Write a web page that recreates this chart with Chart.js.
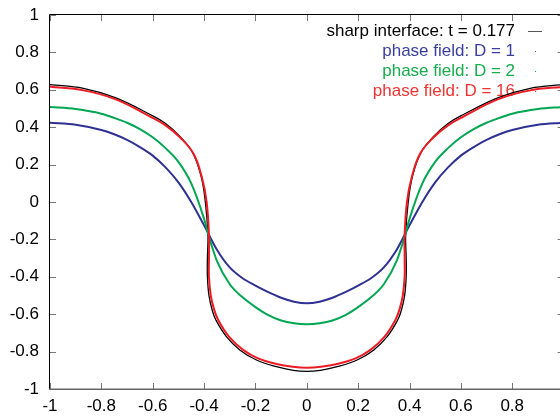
<!DOCTYPE html>
<html>
<head>
<meta charset="utf-8">
<script src="https://cdn.jsdelivr.net/npm/chart.js@4.4.1/dist/chart.umd.min.js"></script>
<style>
  html, body { margin: 0; padding: 0; background: #fff; }
  #wrap { width: 560px; height: 416px; position: relative; }
</style>
</head>
<body>
<div id="wrap"><canvas id="chart"></canvas></div>
<script>
// axis ticks
const xTicks = [-1, -0.8, -0.6, -0.4, -0.2, 0, 0.2, 0.4, 0.6, 0.8];
const yTicks = [-1, -0.8, -0.6, -0.4, -0.2, 0, 0.2, 0.4, 0.6, 0.8, 1];

// sharp interface, t = 0.177 (left to right)
const sharpX = [-1, -0.87, -0.746, -0.61, -0.55, -0.495, -0.445, -0.412, -0.395, -0.385, -0.387, -0.387, -0.381, -0.368, -0.354, -0.313, -0.261, -0.196, -0.118, -0.053, 0,
                0.053, 0.118, 0.196, 0.261, 0.313, 0.354, 0.368, 0.381, 0.387, 0.387, 0.385, 0.395, 0.412, 0.445, 0.495, 0.55, 0.61, 0.746, 0.87, 1];
const sharpY = [0.628, 0.608, 0.558, 0.468, 0.42, 0.352, 0.265, 0.14, 0, -0.18, -0.3, -0.4, -0.5, -0.58, -0.631, -0.72, -0.791, -0.845, -0.881, -0.9, -0.906,
                -0.9, -0.881, -0.845, -0.791, -0.72, -0.631, -0.58, -0.5, -0.4, -0.3, -0.18, 0, 0.14, 0.265, 0.352, 0.42, 0.468, 0.558, 0.608, 0.628];

// phase field, D = 1
const d1X = [-1, -0.9, -0.8, -0.75, -0.7, -0.65, -0.6, -0.55, -0.5, -0.45, -0.4, -0.35, -0.3, -0.25, -0.2, -0.15, -0.1, -0.05, 0,
             0.05, 0.1, 0.15, 0.2, 0.25, 0.3, 0.35, 0.4, 0.45, 0.5, 0.55, 0.6, 0.65, 0.7, 0.75, 0.8, 0.9, 1];
const d1Y = [0.424, 0.413, 0.385, 0.362, 0.332, 0.294, 0.248, 0.185, 0.105, 0, -0.125, -0.255, -0.35, -0.408, -0.447, -0.482, -0.512, -0.533, -0.542,
             -0.533, -0.512, -0.482, -0.447, -0.408, -0.35, -0.255, -0.125, 0, 0.105, 0.185, 0.248, 0.294, 0.332, 0.362, 0.385, 0.413, 0.424];

// phase field, D = 2
const d2X = [-1, -0.9, -0.8, -0.75, -0.7, -0.65, -0.6, -0.55, -0.5, -0.45, -0.4, -0.38, -0.35, -0.3, -0.25, -0.2, -0.15, -0.1, -0.05, 0,
             0.05, 0.1, 0.15, 0.2, 0.25, 0.3, 0.35, 0.38, 0.4, 0.45, 0.5, 0.55, 0.6, 0.65, 0.7, 0.75, 0.8, 0.9, 1];
const d2Y = [0.508, 0.497, 0.472, 0.45, 0.424, 0.39, 0.346, 0.288, 0.215, 0.1, -0.09, -0.19, -0.315, -0.44, -0.51, -0.562, -0.605, -0.634, -0.649, -0.654,
             -0.649, -0.634, -0.605, -0.562, -0.51, -0.44, -0.315, -0.19, -0.09, 0.1, 0.215, 0.288, 0.346, 0.39, 0.424, 0.45, 0.472, 0.497, 0.508];

// phase field, D = 16 (left to right)
const d16X = [-1, -0.87, -0.746, -0.61, -0.55, -0.493, -0.441, -0.409, -0.39, -0.381, -0.381, -0.381, -0.374, -0.362, -0.345, -0.303, -0.248, -0.19, -0.118, -0.055, 0,
              0.055, 0.118, 0.19, 0.248, 0.303, 0.345, 0.362, 0.374, 0.381, 0.381, 0.381, 0.39, 0.409, 0.441, 0.493, 0.55, 0.61, 0.746, 0.87, 1];
const d16Y = [0.616, 0.597, 0.55, 0.457, 0.41, 0.345, 0.258, 0.135, 0, -0.18, -0.3, -0.4, -0.5, -0.57, -0.631, -0.72, -0.791, -0.836, -0.866, -0.881, -0.886,
              -0.881, -0.866, -0.836, -0.791, -0.72, -0.631, -0.57, -0.5, -0.4, -0.3, -0.18, 0, 0.135, 0.258, 0.345, 0.41, 0.457, 0.55, 0.597, 0.616];

const legendItems = [
    { text: 'sharp interface: t = 0.177', color: '#000000', sample: 'line' },
    { text: 'phase field: D = 1', color: '#3a3f9e', sample: 'dot' },
    { text: 'phase field: D = 2', color: '#16ad4c', sample: 'dot' },
    { text: 'phase field: D = 16', color: '#ee3333', sample: 'dot' }
];

const FONT = '"Liberation Sans", Arial, Helvetica, sans-serif';

function toPoints(xs, ys) {
    return xs.map((x, i) => ({ x: x, y: ys[i] }));
}

function curve(label, xs, ys, color, width, order, monotone) {
    return {
        label: label,
        data: toPoints(xs, ys),
        borderColor: color,
        borderWidth: width,
        pointRadius: 0,
        tension: 0.4,
        cubicInterpolationMode: monotone ? 'monotone' : 'default',
        fill: false,
        order: order
    };
}

// gnuplot-style frame with inward ticks, and the legend
const framePlugin = {
    id: 'frame',
    beforeDatasetsDraw(chart) {
        const ctx = chart.ctx;
        ctx.save();
        ctx.font = '17px ' + FONT;
        ctx.textAlign = 'right';
        ctx.textBaseline = 'middle';
        legendItems.forEach((item, i) => {
            const ty = 31 + i * 20;
            ctx.fillStyle = item.color;
            ctx.fillText(item.text, 515, ty);
            if (item.sample === 'line') {
                ctx.strokeStyle = '#555';
                ctx.lineWidth = 1;
                ctx.beginPath();
                ctx.moveTo(528, ty + 0.5);
                ctx.lineTo(542, ty + 0.5);
                ctx.stroke();
            } else {
                ctx.fillStyle = item.color;
                ctx.fillRect(535, ty, 1, 1);
            }
        });
        ctx.restore();
    },
    afterDatasetsDraw(chart) {
        const { ctx, chartArea: a, scales: { x, y } } = chart;
        const rightEdge = x.getPixelForValue(1);
        ctx.save();
        ctx.strokeStyle = '#777';
        ctx.lineWidth = 1;
        ctx.beginPath();
        xTicks.forEach(v => {
            const px = Math.round(x.getPixelForValue(v)) + 0.5;
            ctx.moveTo(px, a.bottom);
            ctx.lineTo(px, a.bottom - 6);
            ctx.moveTo(px, a.top);
            ctx.lineTo(px, a.top + 6);
        });
        yTicks.forEach(v => {
            const py = Math.round(y.getPixelForValue(v)) + 0.5;
            ctx.moveTo(a.left, py);
            ctx.lineTo(a.left + 6, py);
            ctx.moveTo(rightEdge, py);
            ctx.lineTo(rightEdge - 6, py);
        });
        ctx.stroke();

        ctx.strokeStyle = '#000';
        ctx.beginPath();
        ctx.moveTo(a.left - 0.5, a.bottom);
        ctx.lineTo(a.left - 0.5, a.top - 0.5);
        ctx.lineTo(a.right, a.top - 0.5);
        ctx.stroke();

        ctx.strokeStyle = '#666';
        ctx.lineWidth = 1.5;
        ctx.beginPath();
        ctx.moveTo(a.left - 1, a.bottom + 0.25);
        ctx.lineTo(a.right, a.bottom + 0.25);
        ctx.stroke();
        ctx.restore();
    }
};

new Chart(document.getElementById('chart'), {
    type: 'line',
    data: {
        datasets: [
            curve('sharp interface: t = 0.177', sharpX, sharpY, '#000000', 1.3, 4, false),
            curve('phase field: D = 1', d1X, d1Y, '#2e3192', 2, 3, true),
            curve('phase field: D = 2', d2X, d2Y, '#00a651', 2, 2, true),
            curve('phase field: D = 16', d16X, d16Y, '#ed1c24', 2, 1, false)
        ]
    },
    options: {
        responsive: true,
        maintainAspectRatio: false,
        animation: false,
        layout: { padding: { top: 15, right: 0, left: 0, bottom: 0 } },
        plugins: {
            legend: { display: false },
            tooltip: { enabled: false }
        },
        scales: {
            x: {
                type: 'linear',
                min: -1,
                max: 0.986,
                grid: { display: false, drawTicks: false },
                border: { display: false },
                afterBuildTicks: scale => { scale.ticks = xTicks.map(v => ({ value: v })); },
                afterFit: scale => {
                    scale.height = 27;
                    scale.paddingLeft = 0;
                    scale.paddingRight = 0;
                },
                ticks: {
                    padding: 7,
                    color: '#000',
                    font: { family: FONT, size: 17 },
                    maxRotation: 0,
                    callback: v => String(v)
                }
            },
            y: {
                type: 'linear',
                min: -1,
                max: 1,
                grid: { display: false, drawTicks: false },
                border: { display: false },
                afterBuildTicks: scale => { scale.ticks = yTicks.map(v => ({ value: v })); },
                afterFit: scale => {
                    scale.width = 50;
                    scale.paddingTop = 0;
                    scale.paddingBottom = 0;
                },
                ticks: {
                    padding: 11,
                    color: '#000',
                    font: { family: FONT, size: 17 },
                    callback: v => String(v)
                }
            }
        }
    },
    plugins: [framePlugin]
});
</script>
</body>
</html>
